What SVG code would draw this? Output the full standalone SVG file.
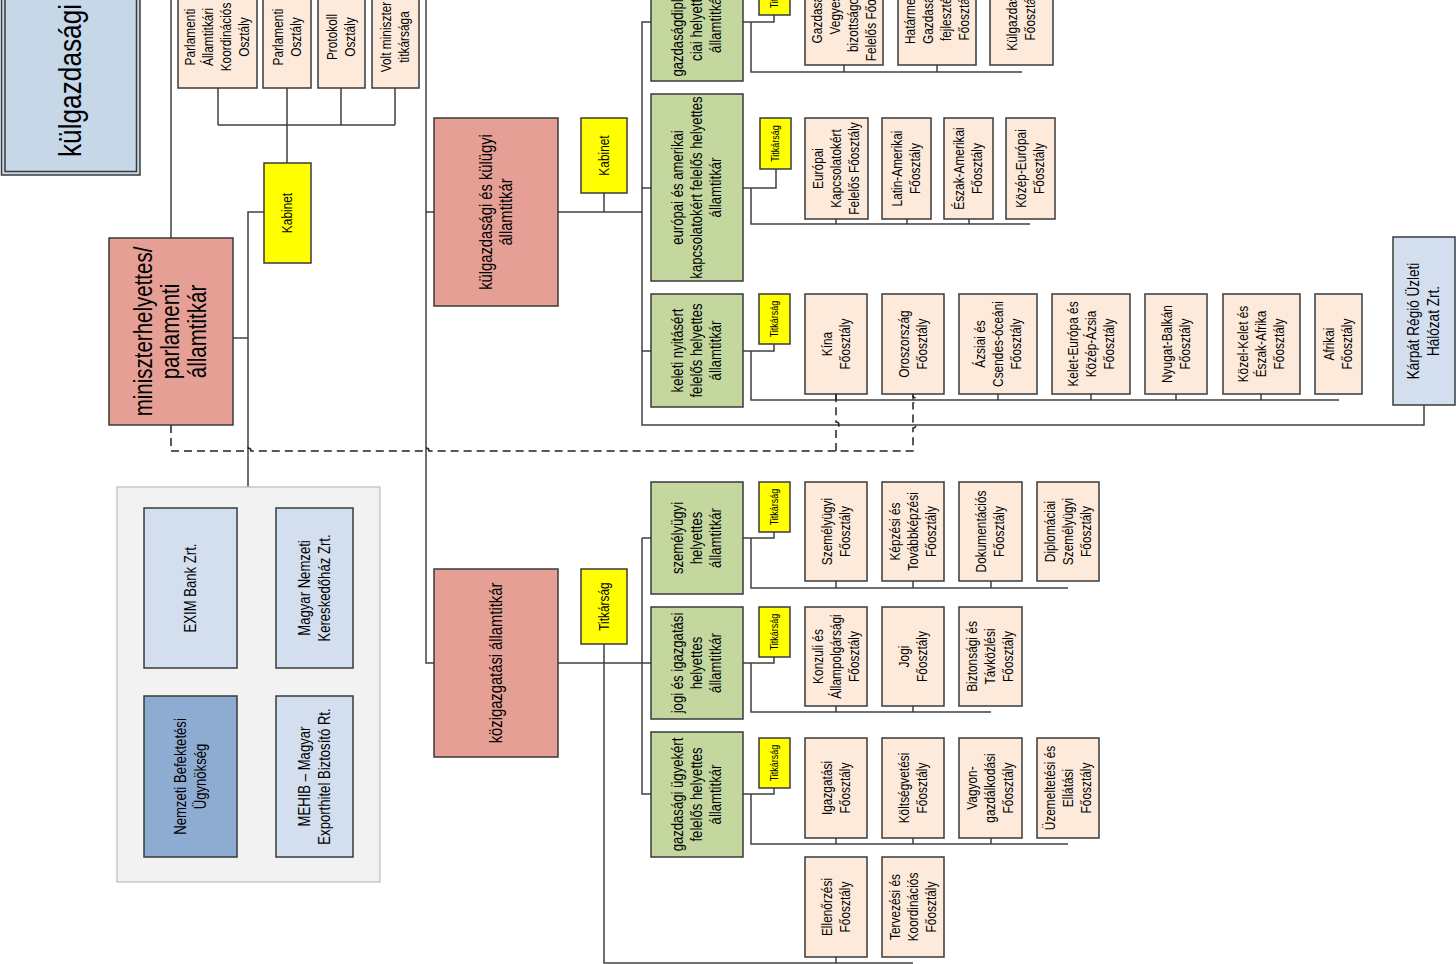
<svg xmlns="http://www.w3.org/2000/svg" width="1456" height="964" viewBox="0 0 1456 964">
<style>
rect{stroke:#3a3a3a;stroke-width:1.5}
rect.bg{fill:#fff;stroke:none}
.pe{fill:#fdeadb}.pk{fill:#e69f94}.gr{fill:#c4d79f}.ye{fill:#ffff00}.lb{fill:#d3dfee}.db{fill:#8eacd2}.kg{fill:#c6d7e8}
.ct{fill:#f2f2f2;stroke:#bdbdbd;stroke-width:1.2}
text{font-family:"Liberation Sans",Arial,sans-serif;fill:#000;text-anchor:middle}
.f11{font-size:11px}.f14{font-size:14.5px}.f16{font-size:16px}.f165{font-size:16.5px}.f18{font-size:18px}.f25{font-size:25px}.f32{font-size:32px}
.c path{fill:none;stroke:#404040;stroke-width:1.5}
.c path.d{stroke:#222;stroke-dasharray:8 5}
</style>
<rect class="bg" width="1456" height="964"/>
<g class="c" id="connectors">
<path d="M218,88V125M287,88V163M341,88V125M395,88V125M218,125H395"/>
<path d="M264,212H248V487M233,338H248"/>
<path d="M171,0V238"/>
<path d="M426,0V663H434M426,212H434"/>
<path d="M558,212H642M604,193V212"/>
<path d="M651,22H642V425H1424V405M642,188H651M642,351H651"/>
<path d="M743,22H774V15M751,22V72H1022M844,65V72M937,65V72"/>
<path d="M743,188H776V169M751,188V224H1030M836,219V224M907,219V224M969,219V224"/>
<path d="M743,351H774V344M751,351V400H1339M836,394V400M913,394V400M998,394V400M1091,394V400M1176,394V400M1261,394V400"/>
<path d="M558,663H651M642,538V794H651M642,538H651"/>
<path d="M604,644V963H913M836,957V963"/>
<path d="M743,538H774V532M751,538V588H1068M836,581V588M913,581V588M991,581V588"/>
<path d="M743,663H774V657M751,663V712H991M836,706V712M913,706V712"/>
<path d="M743,794H774V788M751,794V844H1068M836,838V844M913,838V844M991,838V844"/>
<path class="d" d="M171,425V451H245a3,3 0 0 1 6,0H423a3,3 0 0 1 6,0H913V428a3,3 0 0 0 0,-6V403a3,3 0 0 0 0,-6V394"/>
<path class="d" d="M836,451V428a3,3 0 0 0 0,-6V394"/>
</g>
<g id="kulgazdasagi"><rect class="kg" x="1.5" y="-10" width="138.5" height="185"/><rect class="kg" x="5" y="-10" width="131.5" height="181.5" stroke-width="1"/>
<text class="f32" style="text-anchor:start" transform="translate(81 157) rotate(-90) scale(.82 1)">külgazdasági</text></g>
<g id="o1"><rect class="pe" x="178" y="-14" width="79" height="102"/><text class="f14" transform="translate(217.5 37) rotate(-90) scale(.82 1)"><tspan x="0" y="-22.2">Parlamenti</tspan><tspan x="0" y="-4.2">Államtitkári</tspan><tspan x="0" y="13.8">Koordinációs</tspan><tspan x="0" y="31.8">Osztály</tspan></text></g>
<g id="o2"><rect class="pe" x="263" y="-14" width="48" height="102"/><text class="f14" transform="translate(287 37) rotate(-90) scale(.82 1)"><tspan x="0" y="-4.2">Parlamenti</tspan><tspan x="0" y="13.8">Osztály</tspan></text></g>
<g id="o3"><rect class="pe" x="318" y="-14" width="47" height="102"/><text class="f14" transform="translate(341.5 37) rotate(-90) scale(.82 1)"><tspan x="0" y="-4.2">Protokoll</tspan><tspan x="0" y="13.8">Osztály</tspan></text></g>
<g id="o4"><rect class="pe" x="372" y="-14" width="47" height="102"/><text class="f14" transform="translate(395.5 37) rotate(-90) scale(.82 1)"><tspan x="0" y="-4.2">Volt miniszter</tspan><tspan x="0" y="13.8">titkársága</tspan></text></g>
<g id="kabinet1"><rect class="ye" x="264" y="163" width="47" height="100"/><text class="f14" transform="translate(287.5 213) rotate(-90) scale(.82 1)" y="4.8">Kabinet</text></g>
<g id="miniszterhelyettes"><rect class="pk" x="109" y="238" width="124" height="187"/><text class="f25" transform="translate(171 331.5) rotate(-90) scale(.82 1)"><tspan x="0" y="-18.75">miniszterhelyettes/</tspan><tspan x="0" y="8.25">parlamenti</tspan><tspan x="0" y="35.25">államtitkár</tspan></text></g>
<g id="kulugyi"><rect class="pk" x="434" y="118" width="124" height="188"/><text class="f18" transform="translate(496 212) rotate(-90) scale(.82 1)"><tspan x="0" y="-4.1">külgazdasági és külügyi</tspan><tspan x="0" y="15.9">államtitkár</tspan></text></g>
<g id="kabinet2"><rect class="ye" x="581" y="118" width="46" height="75"/><text class="f14" transform="translate(604 155.5) rotate(-90) scale(.82 1)" y="4.8">Kabinet</text></g>
<g id="gdipl"><rect class="gr" x="651" y="-35" width="92" height="116"/><text class="f16" transform="translate(697 23) rotate(-90) scale(.82 1)"><tspan x="0" y="-13.7">gazdaságdiplomá-</tspan><tspan x="0" y="5.3">ciai helyettes</tspan><tspan x="0" y="24.3">államtitkár</tspan></text></g>
<g id="t1"><rect class="ye" x="759" y="-35" width="31" height="50"/><text class="f11" transform="translate(774.5 -10) rotate(-90) scale(.82 1)" y="3.6">Titkárság</text></g>
<g id="p1"><rect class="pe" x="805" y="-35" width="78" height="100"/><text class="f14" transform="translate(844 15) rotate(-90) scale(.82 1)"><tspan x="0" y="-22.2">Gazdasági</tspan><tspan x="0" y="-4.2">Vegyes</tspan><tspan x="0" y="13.8">bizottságokért</tspan><tspan x="0" y="31.8">Felelős Főosztály</tspan></text></g>
<g id="p2"><rect class="pe" x="898" y="-35" width="78" height="100"/><text class="f14" transform="translate(937 15) rotate(-90) scale(.82 1)"><tspan x="0" y="-22.2">Határmenti</tspan><tspan x="0" y="-4.2">Gazdaság-</tspan><tspan x="0" y="13.8">fejlesztési</tspan><tspan x="0" y="31.8">Főosztály</tspan></text></g>
<g id="p3"><rect class="pe" x="990" y="-35" width="63" height="100"/><text class="f14" transform="translate(1021.5 15) rotate(-90) scale(.82 1)"><tspan x="0" y="-4.2">Külgazdasági</tspan><tspan x="0" y="13.8">Főosztály</tspan></text></g>
<g id="europai"><rect class="gr" x="651" y="94" width="92" height="187"/><text class="f16" transform="translate(697 187.5) rotate(-90) scale(.82 1)"><tspan x="0" y="-13.7">európai és amerikai</tspan><tspan x="0" y="5.3">kapcsolatokért felelős helyettes</tspan><tspan x="0" y="24.3">államtitkár</tspan></text></g>
<g id="t2"><rect class="ye" x="760" y="118" width="31" height="51"/><text class="f11" transform="translate(775.5 143.5) rotate(-90) scale(.82 1)" y="3.6">Titkárság</text></g>
<g id="p4"><rect class="pe" x="805" y="118" width="63" height="101"/><text class="f14" transform="translate(836.5 168.5) rotate(-90) scale(.82 1)"><tspan x="0" y="-13.2">Európai</tspan><tspan x="0" y="4.8">Kapcsolatokért</tspan><tspan x="0" y="22.8">Felelős Főosztály</tspan></text></g>
<g id="p5"><rect class="pe" x="882" y="118" width="49" height="101"/><text class="f14" transform="translate(906.5 168.5) rotate(-90) scale(.82 1)"><tspan x="0" y="-4.2">Latin-Amerikai</tspan><tspan x="0" y="13.8">Főosztály</tspan></text></g>
<g id="p6"><rect class="pe" x="944" y="118" width="49" height="101"/><text class="f14" transform="translate(968.5 168.5) rotate(-90) scale(.82 1)"><tspan x="0" y="-4.2">Észak-Amerikai</tspan><tspan x="0" y="13.8">Főosztály</tspan></text></g>
<g id="p7"><rect class="pe" x="1006" y="118" width="49" height="101"/><text class="f14" transform="translate(1030.5 168.5) rotate(-90) scale(.82 1)"><tspan x="0" y="-4.2">Közép-Európai</tspan><tspan x="0" y="13.8">Főosztály</tspan></text></g>
<g id="keleti"><rect class="gr" x="651" y="294" width="92" height="113"/><text class="f16" transform="translate(697 350.5) rotate(-90) scale(.82 1)"><tspan x="0" y="-13.7">keleti nyitásért</tspan><tspan x="0" y="5.3">felelős helyettes</tspan><tspan x="0" y="24.3">államtitkár</tspan></text></g>
<g id="t3"><rect class="ye" x="759" y="294" width="31" height="50"/><text class="f11" transform="translate(774.5 319) rotate(-90) scale(.82 1)" y="3.6">Titkárság</text></g>
<g id="p8"><rect class="pe" x="805" y="294" width="62" height="100"/><text class="f14" transform="translate(836 344) rotate(-90) scale(.82 1)"><tspan x="0" y="-4.2">Kína</tspan><tspan x="0" y="13.8">Főosztály</tspan></text></g>
<g id="p9"><rect class="pe" x="882" y="294" width="62" height="100"/><text class="f14" transform="translate(913 344) rotate(-90) scale(.82 1)"><tspan x="0" y="-4.2">Oroszország</tspan><tspan x="0" y="13.8">Főosztály</tspan></text></g>
<g id="p10"><rect class="pe" x="959" y="294" width="78" height="100"/><text class="f14" transform="translate(998 344) rotate(-90) scale(.82 1)"><tspan x="0" y="-13.2">Ázsiai és</tspan><tspan x="0" y="4.8">Csendes-óceáni</tspan><tspan x="0" y="22.8">Főosztály</tspan></text></g>
<g id="p11"><rect class="pe" x="1052" y="294" width="78" height="100"/><text class="f14" transform="translate(1091 344) rotate(-90) scale(.82 1)"><tspan x="0" y="-13.2">Kelet-Európa és</tspan><tspan x="0" y="4.8">Közép-Ázsia</tspan><tspan x="0" y="22.8">Főosztály</tspan></text></g>
<g id="p12"><rect class="pe" x="1145" y="294" width="62" height="100"/><text class="f14" transform="translate(1176 344) rotate(-90) scale(.82 1)"><tspan x="0" y="-4.2">Nyugat-Balkán</tspan><tspan x="0" y="13.8">Főosztály</tspan></text></g>
<g id="p13"><rect class="pe" x="1223" y="294" width="77" height="100"/><text class="f14" transform="translate(1261.5 344) rotate(-90) scale(.82 1)"><tspan x="0" y="-13.2">Közel-Kelet és</tspan><tspan x="0" y="4.8">Észak-Afrika</tspan><tspan x="0" y="22.8">Főosztály</tspan></text></g>
<g id="p14"><rect class="pe" x="1315" y="294" width="47" height="100"/><text class="f14" transform="translate(1338.5 344) rotate(-90) scale(.82 1)"><tspan x="0" y="-4.2">Afrikai</tspan><tspan x="0" y="13.8">Főosztály</tspan></text></g>
<g id="karpat"><rect class="lb" x="1393" y="237" width="62" height="168"/><text class="f165" transform="translate(1424 321) rotate(-90) scale(.82 1)"><tspan x="0" y="-4.6">Kárpát Régió Üzleti</tspan><tspan x="0" y="15.4">Hálózat Zrt.</tspan></text></g>
<g id="companies"><rect class="ct" x="117" y="487" width="263" height="395"/>
<g id="exim"><rect class="lb" x="144" y="508" width="93" height="160"/><text class="f16" transform="translate(190.5 588) rotate(-90) scale(.82 1)" y="5.3">EXIM Bank Zrt.</text></g>
<g id="mnkh"><rect class="lb" x="276" y="508" width="77" height="160"/><text class="f16" transform="translate(314.5 588) rotate(-90) scale(.82 1)"><tspan x="0" y="-4.7">Magyar Nemzeti</tspan><tspan x="0" y="15.3">Kereskedőház Zrt.</tspan></text></g>
<g id="nbu"><rect class="db" x="144" y="696" width="93" height="161"/><text class="f16" transform="translate(190.5 776.5) rotate(-90) scale(.82 1)"><tspan x="0" y="-4.7">Nemzeti Befektetési</tspan><tspan x="0" y="15.3">Ügynökség</tspan></text></g>
<g id="mehib"><rect class="lb" x="276" y="696" width="77" height="161"/><text class="f16" transform="translate(314.5 776.5) rotate(-90) scale(.82 1)"><tspan x="0" y="-4.7">MEHIB – Magyar</tspan><tspan x="0" y="15.3">Exporthitel Biztosító Rt.</tspan></text></g>
</g>
<g id="kozig"><rect class="pk" x="434" y="569" width="124" height="188"/><text class="f18" transform="translate(496 663) rotate(-90) scale(.82 1)" y="5.9">közigazgatási államtitkár</text></g>
<g id="titk"><rect class="ye" x="581" y="569" width="46" height="75"/><text class="f14" transform="translate(604 606.5) rotate(-90) scale(.82 1)" y="4.8">Titkárság</text></g>
<g id="szemelyugyi"><rect class="gr" x="651" y="482" width="92" height="112"/><text class="f16" transform="translate(697 538) rotate(-90) scale(.82 1)"><tspan x="0" y="-13.7">személyügyi</tspan><tspan x="0" y="5.3">helyettes</tspan><tspan x="0" y="24.3">államtitkár</tspan></text></g>
<g id="t4"><rect class="ye" x="759" y="482" width="31" height="50"/><text class="f11" transform="translate(774.5 507) rotate(-90) scale(.82 1)" y="3.6">Titkárság</text></g>
<g id="p15"><rect class="pe" x="805" y="482" width="62" height="99"/><text class="f14" transform="translate(836 531.5) rotate(-90) scale(.82 1)"><tspan x="0" y="-4.2">Személyügyi</tspan><tspan x="0" y="13.8">Főosztály</tspan></text></g>
<g id="p16"><rect class="pe" x="882" y="482" width="62" height="99"/><text class="f14" transform="translate(913 531.5) rotate(-90) scale(.82 1)"><tspan x="0" y="-13.2">Képzési és</tspan><tspan x="0" y="4.8">Továbbképzési</tspan><tspan x="0" y="22.8">Főosztály</tspan></text></g>
<g id="p17"><rect class="pe" x="959" y="482" width="63" height="99"/><text class="f14" transform="translate(990.5 531.5) rotate(-90) scale(.82 1)"><tspan x="0" y="-4.2">Dokumentációs</tspan><tspan x="0" y="13.8">Főosztály</tspan></text></g>
<g id="p18"><rect class="pe" x="1037" y="482" width="62" height="99"/><text class="f14" transform="translate(1068 531.5) rotate(-90) scale(.82 1)"><tspan x="0" y="-13.2">Diplomáciai</tspan><tspan x="0" y="4.8">Személyügyi</tspan><tspan x="0" y="22.8">Főosztály</tspan></text></g>
<g id="jogi"><rect class="gr" x="651" y="607" width="92" height="112"/><text class="f16" transform="translate(697 663) rotate(-90) scale(.82 1)"><tspan x="0" y="-13.7">jogi és igazgatási</tspan><tspan x="0" y="5.3">helyettes</tspan><tspan x="0" y="24.3">államtitkár</tspan></text></g>
<g id="t5"><rect class="ye" x="759" y="607" width="31" height="50"/><text class="f11" transform="translate(774.5 632) rotate(-90) scale(.82 1)" y="3.6">Titkárság</text></g>
<g id="p19"><rect class="pe" x="805" y="607" width="62" height="99"/><text class="f14" transform="translate(836 656.5) rotate(-90) scale(.82 1)"><tspan x="0" y="-13.2">Konzuli és</tspan><tspan x="0" y="4.8">Állampolgársági</tspan><tspan x="0" y="22.8">Főosztály</tspan></text></g>
<g id="p20"><rect class="pe" x="882" y="607" width="62" height="99"/><text class="f14" transform="translate(913 656.5) rotate(-90) scale(.82 1)"><tspan x="0" y="-4.2">Jogi</tspan><tspan x="0" y="13.8">Főosztály</tspan></text></g>
<g id="p21"><rect class="pe" x="959" y="607" width="63" height="99"/><text class="f14" transform="translate(990.5 656.5) rotate(-90) scale(.82 1)"><tspan x="0" y="-13.2">Biztonsági és</tspan><tspan x="0" y="4.8">Távközlési</tspan><tspan x="0" y="22.8">Főosztály</tspan></text></g>
<g id="gazdasagi"><rect class="gr" x="651" y="732" width="92" height="125"/><text class="f16" transform="translate(697 794.5) rotate(-90) scale(.82 1)"><tspan x="0" y="-13.7">gazdasági ügyekért</tspan><tspan x="0" y="5.3">felelős helyettes</tspan><tspan x="0" y="24.3">államtitkár</tspan></text></g>
<g id="t6"><rect class="ye" x="759" y="738" width="31" height="50"/><text class="f11" transform="translate(774.5 763) rotate(-90) scale(.82 1)" y="3.6">Titkárság</text></g>
<g id="p22"><rect class="pe" x="805" y="738" width="62" height="100"/><text class="f14" transform="translate(836 788) rotate(-90) scale(.82 1)"><tspan x="0" y="-4.2">Igazgatási</tspan><tspan x="0" y="13.8">Főosztály</tspan></text></g>
<g id="p23"><rect class="pe" x="882" y="738" width="62" height="100"/><text class="f14" transform="translate(913 788) rotate(-90) scale(.82 1)"><tspan x="0" y="-4.2">Költségvetési</tspan><tspan x="0" y="13.8">Főosztály</tspan></text></g>
<g id="p24"><rect class="pe" x="959" y="738" width="63" height="100"/><text class="f14" transform="translate(990.5 788) rotate(-90) scale(.82 1)"><tspan x="0" y="-13.2">Vagyon-</tspan><tspan x="0" y="4.8">gazdálkodási</tspan><tspan x="0" y="22.8">Főosztály</tspan></text></g>
<g id="p25"><rect class="pe" x="1037" y="738" width="62" height="100"/><text class="f14" transform="translate(1068 788) rotate(-90) scale(.82 1)"><tspan x="0" y="-13.2">Üzemeltetési és</tspan><tspan x="0" y="4.8">Ellátási</tspan><tspan x="0" y="22.8">Főosztály</tspan></text></g>
<g id="p26"><rect class="pe" x="805" y="857" width="62" height="100"/><text class="f14" transform="translate(836 907) rotate(-90) scale(.82 1)"><tspan x="0" y="-4.2">Ellenőrzési</tspan><tspan x="0" y="13.8">Főosztály</tspan></text></g>
<g id="p27"><rect class="pe" x="882" y="857" width="62" height="100"/><text class="f14" transform="translate(913 907) rotate(-90) scale(.82 1)"><tspan x="0" y="-13.2">Tervezési és</tspan><tspan x="0" y="4.8">Koordinációs</tspan><tspan x="0" y="22.8">Főosztály</tspan></text></g>
</svg>
